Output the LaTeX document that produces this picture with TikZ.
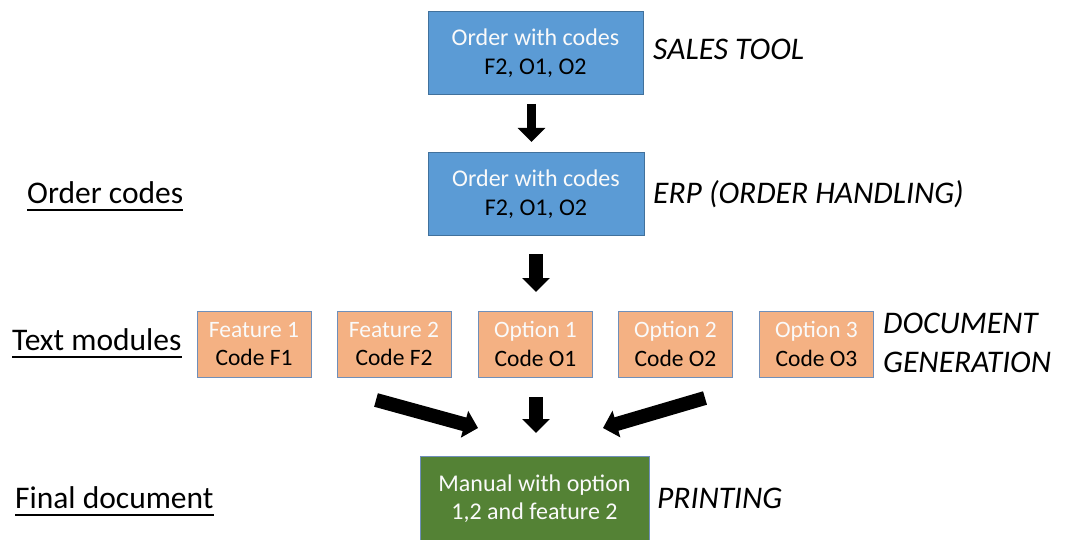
\documentclass[tikz,border=0pt]{standalone}
\usepackage{fontspec}
\setmainfont{Carlito}
\usetikzlibrary{arrows.meta}

\definecolor{orderfill}{HTML}{5B9BD5}
\definecolor{orderedge}{HTML}{41719C}
\definecolor{modfill}{HTML}{F4B183}
\definecolor{modedge}{HTML}{6F8FBA}
\definecolor{docfill}{HTML}{548235}
\definecolor{lighttext}{HTML}{FAFAFA}

\begin{document}
\begin{tikzpicture}[x=1pt,y=-1pt,
  orderbox/.style={draw=orderedge, fill=orderfill, line width=1pt,
    minimum width=215pt, minimum height=83pt, inner sep=0pt, align=center,
    font=\fontsize{24}{29}\selectfont},
  modbox/.style={draw=modedge, fill=modfill, line width=1pt,
    minimum width=114pt, minimum height=66pt, inner sep=0pt, align=center,
    font=\fontsize{23.5}{28.5}\selectfont},
  docbox/.style={draw=modedge, fill=docfill, line width=1pt,
    minimum width=229pt, minimum height=86pt, inner sep=0pt, align=center,
    text=lighttext, font=\fontsize{24}{28}\selectfont},
  stagelabel/.style={anchor=base west, inner sep=0pt,
    font=\fontsize{31.5}{38}\selectfont\itshape},
  levellabel/.style={anchor=base west, inner sep=0pt,
    font=\fontsize{31.5}{38}\selectfont},
  underline/.style={line width=2pt},
  flow/.style={line width=14pt, -{Triangle[width=27pt,length=14pt]}}
]
\clip (0,0) rectangle (1067,540);

% order boxes
\node[orderbox] (sales) at (535.5,53.5)
  {\textcolor{lighttext}{Order with codes}\\F2, O1, O2};
\node[orderbox, minimum width=216pt, minimum height=82pt] (erp) at (536,194)
  {\textcolor{lighttext}{Order with codes}\\F2, O1, O2};

% text modules
\node[modbox] (f1) at (254,344)   {\textcolor{lighttext}{Feature 1}\\Code F1};
\node[modbox] (f2) at (394,344)   {\textcolor{lighttext}{Feature 2}\\Code F2};
\node[modbox] (o1) at (535.5,344) {\textcolor{lighttext}{Option 1}\\Code O1};
\node[modbox] (o2) at (675.5,344) {\textcolor{lighttext}{Option 2}\\Code O2};
\node[modbox] (o3) at (816.5,344) {\textcolor{lighttext}{Option 3}\\Code O3};

% final document
\node[docbox] (manual) at (534.5,499) {Manual with option\\1,2 and feature 2};

% stage names on the right
\node[stagelabel] (salestool) at (653,60)  {SALES TOOL};
\node[stagelabel] (erplabel)  at (653,203) {ERP (ORDER HANDLING)};
\node[stagelabel] (docgenA)   at (883,333) {DOCUMENT};
\node[stagelabel] (docgenB)   at (883,372) {GENERATION};
\node[stagelabel] (printing)  at (657,508) {PRINTING};

% level names on the left
\node[levellabel] (ordercodes)  at (27,203) {Order codes};
\node[levellabel] (textmodules) at (12,350) {Text modules};
\node[levellabel] (finaldoc)    at (15,508) {Final document};
\foreach \n in {ordercodes,textmodules,finaldoc}
  \draw[underline] ([yshift=-7pt]\n.base west) -- ([yshift=-7pt]\n.base east);

% block arrows
\coordinate (a1s) at (531.5,104);
\coordinate (a1e) at (531.5,142);
\coordinate (a2s) at (536,254);
\coordinate (a2e) at (536,292);
\coordinate (a3s) at (536,397);
\coordinate (a3e) at (536,433);
\coordinate (a4s) at (376,400);
\coordinate (a4e) at (478,428);
\coordinate (a5s) at (705,398);
\coordinate (a5e) at (603,428);

\draw[flow, line width=9pt] (a1s) -- (a1e);
\draw[flow] (a2s) -- (a2e);
\draw[flow] (a3s) -- (a3e);
\draw[flow] (a4s) -- (a4e);
\draw[flow] (a5s) -- (a5e);
\end{tikzpicture}
\end{document}
